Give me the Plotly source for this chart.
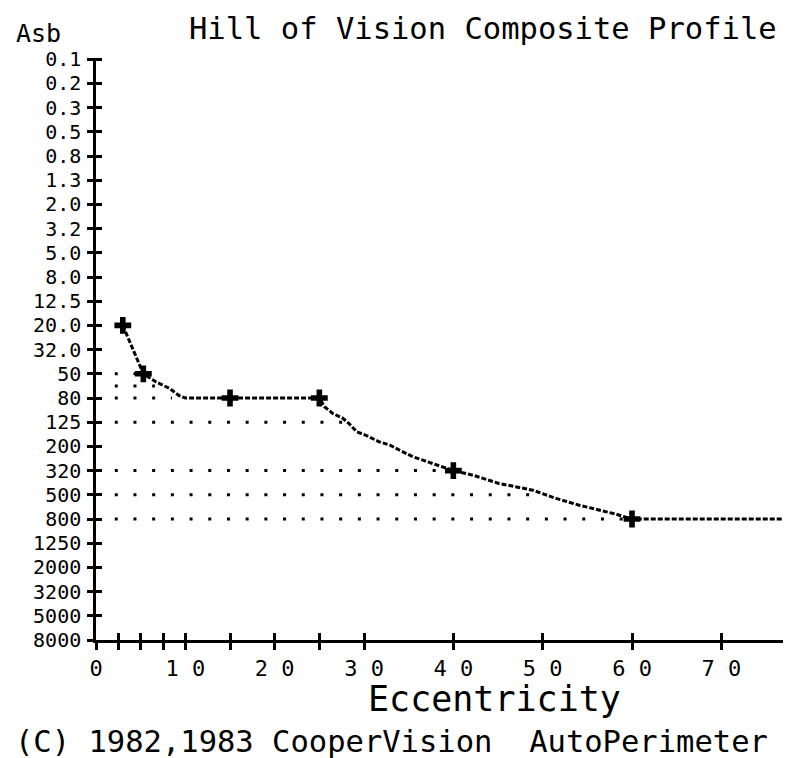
import plotly.graph_objects as go

# ---- data ----
Y_LABELS = ["0.1", "0.2", "0.3", "0.5", "0.8", "1.3", "2.0", "3.2", "5.0", "8.0",
            "12.5", "20.0", "32.0", "50", "80", "125", "200", "320", "500", "800",
            "1250", "2000", "3200", "5000", "8000"]
X_TICK_VALUES = [0, 2.5, 5, 7.5, 10, 15, 20, 25, 30, 40, 50, 60, 70]
X_TICK_TEXT = ["0", "", "", "", "1 0", "", "2 0", "", "3 0", "4 0", "5 0", "6 0", "7 0"]

# measured test points (eccentricity, Asb)
POINT_ECC = [3, 5.3, 15, 25, 40, 60]
POINT_ASB = ["20.0", "50", "80", "80", "320", "800"]

# plotted profile curve (eccentricity, position on the Asb scale, 0 = 0.1 Asb)
CURVE_ECC = [3, 3.7, 4.3, 5.3, 6.7, 8.2, 9.3, 10, 15, 25, 25.6, 26.5, 27.6, 28.3, 29.2,
             30.2, 31.7, 32.9, 34.0, 35.5, 36.6, 37.7, 40, 42.2, 45.1, 48.9, 51.5,
             54.1, 56.7, 58.2, 60, 76.9]
CURVE_LEVEL = [11, 11.6, 12.15, 13.0, 13.33, 13.6, 13.9, 14.0, 14.0, 14.0, 14.37, 14.64,
               14.83, 15.05, 15.4, 15.54, 15.81, 15.95, 16.16, 16.43, 16.57, 16.7, 17.0,
               17.19, 17.53, 17.81, 18.15, 18.43, 18.67, 18.8, 19.0, 19.0]

# dotted guide rows (position on the Asb scale, eccentricity where they stop)
GRID_LEVEL = [13, 13.5, 14, 15, 17, 18, 19]
GRID_END_ECC = [4.5, 6.6, 8.5, 29.0, 39.0, 49.5, 59.5]
GRID_START_ECC = 2.1

TITLE = "Hill of Vision Composite Profile"
X_TITLE = "Eccentricity"
Y_TITLE = "Asb"
FOOTER = "(C) 1982,1983 CooperVision  AutoPerimeter"

# ---- figure ----
# the page body has an 8px default margin, so figure px = page px - OFF
OFF = 8
W, H = 793 - 2 * OFF, 758 - OFF
L = 96 - OFF
T = 58 - OFF
PLOT_RIGHT = 783 - OFF
PLOT_BOTTOM = 640 - OFF
R = W - PLOT_RIGHT
B = H - PLOT_BOTTOM
PW, PH = W - L - R, H - T - B
FONT = "DejaVu Sans Mono"
INK = "black"


def px_x(page_px):
    return (page_px - OFF - L) / PW


def px_y(page_py):
    return (PLOT_BOTTOM - (page_py - OFF)) / PH


fig = go.Figure()

for lvl, xe in zip(GRID_LEVEL, GRID_END_ECC):
    fig.add_trace(go.Scatter(
        x=[GRID_START_ECC, xe], y=[lvl, lvl], mode="lines",
        line=dict(color=INK, width=3, dash="3px,15.7px"),
        hoverinfo="skip", showlegend=False))

fig.add_trace(go.Scatter(
    x=CURVE_ECC, y=CURVE_LEVEL, mode="lines",
    line=dict(color=INK, width=3, dash="5px,2px"),
    showlegend=False))

fig.add_trace(go.Scatter(
    x=POINT_ECC, y=[Y_LABELS.index(v) for v in POINT_ASB], mode="markers",
    marker=dict(symbol="cross", size=14, color=INK),
    showlegend=False))

# invisible trace for the overlaid axes that give the crossing "+" ticks
fig.add_trace(go.Scatter(x=[0], y=[0], xaxis="x2", yaxis="y2", mode="markers",
                         marker=dict(opacity=0), hoverinfo="skip", showlegend=False))

XR = [0, 76.9]
YR = [24, -0.05]
Y_IDX = list(range(len(Y_LABELS)))

fig.update_layout(
    width=W, height=H,
    margin=dict(l=L, r=R, t=T, b=B, pad=0),
    paper_bgcolor="white", plot_bgcolor="white",
    font=dict(family=FONT, color=INK),
    xaxis=dict(range=XR, tickmode="array", tickvals=X_TICK_VALUES, ticktext=X_TICK_TEXT,
               ticks="outside", ticklen=7, tickwidth=2.5, tickcolor=INK,
               showline=True, linewidth=2.5, linecolor=INK, showgrid=False, zeroline=False,
               tickfont=dict(family=FONT, size=22, color=INK), ticklabelstandoff=0),
    yaxis=dict(range=YR, tickmode="array", tickvals=Y_IDX, ticktext=Y_LABELS,
               ticks="outside", ticklen=6, tickwidth=2.5, tickcolor=INK,
               showline=True, linewidth=2.5, linecolor=INK, showgrid=False, zeroline=False,
               tickfont=dict(family=FONT, size=20, color=INK), ticklabelstandoff=2),
    xaxis2=dict(range=XR, overlaying="x", anchor="y2", side="bottom", tickmode="array",
                tickvals=X_TICK_VALUES, ticks="inside", ticklen=7, tickwidth=2.5,
                tickcolor=INK, showticklabels=False, showgrid=False, zeroline=False,
                showline=False),
    yaxis2=dict(range=YR, overlaying="y", anchor="x2", side="left", tickmode="array",
                tickvals=Y_IDX, ticks="inside", ticklen=6, tickwidth=2.5, tickcolor=INK,
                showticklabels=False, showgrid=False, zeroline=False, showline=False),
    annotations=[
        dict(text=TITLE, x=px_x(779), y=px_y(9), xref="paper", yref="paper",
             xanchor="right", yanchor="top", showarrow=False,
             font=dict(family=FONT, size=30.5, color=INK)),
        dict(text=Y_TITLE, x=px_x(14), y=px_y(34), xref="paper", yref="paper",
             xanchor="left", yanchor="middle", showarrow=False,
             font=dict(family=FONT, size=25, color=INK)),
        dict(text=X_TITLE, x=px_x(494), y=px_y(699), xref="paper", yref="paper",
             xanchor="center", yanchor="middle", showarrow=False,
             font=dict(family=FONT, size=35, color=INK)),
        dict(text=FOOTER, x=px_x(391), y=px_y(741), xref="paper", yref="paper",
             xanchor="center", yanchor="middle", showarrow=False,
             font=dict(family=FONT, size=30.5, color=INK)),
    ],
)

fig.write_html("out.html")
